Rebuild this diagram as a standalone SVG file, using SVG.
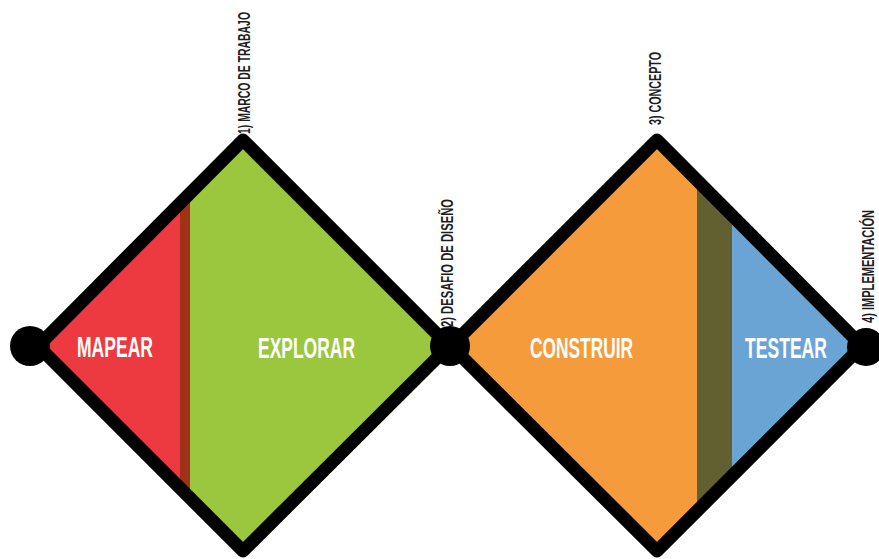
<svg xmlns="http://www.w3.org/2000/svg" width="879" height="559" viewBox="0 0 879 559">
<style>
.lbl{font-family:"Liberation Sans",Arial,sans-serif;font-weight:bold;font-size:29px;fill:#ffffff}
.vl{font-family:"Liberation Sans",Arial,sans-serif;font-weight:bold;font-size:11px;fill:#1e1e1e}
.edge{fill:none;stroke:#000;stroke-width:13;stroke-linejoin:round}
.dot{fill:#000}
</style>
<defs>
<clipPath id="cl"><polygon points="243,140 449,346 243,551 38,346"/></clipPath>
<clipPath id="cr"><polygon points="657,140 862,346 657,551 451,346"/></clipPath>
</defs>
<rect width="879" height="559" fill="#ffffff"/>
<g id="diamond-left">
<g clip-path="url(#cl)">
<rect x="30" y="130" width="150" height="430" fill="#EC3A40"/>
<rect x="180" y="130" width="10" height="430" fill="#9E3118"/>
<rect x="190" y="130" width="270" height="430" fill="#9AC73E"/>
</g>
<polygon class="edge" points="243,140 449,346 243,551 38,346"/>
</g>
<g id="diamond-right">
<g clip-path="url(#cr)">
<rect x="440" y="130" width="257" height="430" fill="#F69B3B"/>
<rect x="697" y="130" width="35" height="430" fill="#625F30"/>
<rect x="732" y="130" width="140" height="430" fill="#6AA4D5"/>
</g>
<polygon class="edge" points="657,140 862,346 657,551 451,346"/>
</g>
<g id="connectors">
<circle id="dot-start" class="dot" cx="30" cy="346" r="20"/>
<circle id="dot-mid" class="dot" cx="450" cy="346" r="20"/>
<circle id="dot-end" class="dot" cx="866" cy="347" r="19"/>
</g>
<g id="labels">
<text class="lbl" x="77" y="357" textLength="76" lengthAdjust="spacingAndGlyphs">MAPEAR</text>
<text class="lbl" x="258" y="358" textLength="97" lengthAdjust="spacingAndGlyphs">EXPLORAR</text>
<text class="lbl" x="530" y="358" textLength="103" lengthAdjust="spacingAndGlyphs">CONSTRUIR</text>
<text class="lbl" x="745" y="358" textLength="82" lengthAdjust="spacingAndGlyphs">TESTEAR</text>
</g>
<g id="stage-labels">
<text class="vl" transform="translate(250,134) rotate(-90) scale(1,1.55)" textLength="122" lengthAdjust="spacingAndGlyphs">1) MARCO DE TRABAJO</text>
<text class="vl" transform="translate(453,327) rotate(-90) scale(1,1.55)" textLength="128" lengthAdjust="spacingAndGlyphs">2) DESAFIO DE DISEÑO</text>
<text class="vl" transform="translate(661,125) rotate(-90) scale(1,1.55)" textLength="73" lengthAdjust="spacingAndGlyphs">3) CONCEPTO</text>
<text class="vl" transform="translate(874,323) rotate(-90) scale(1,1.55)" textLength="113" lengthAdjust="spacingAndGlyphs">4) IMPLEMENTACIÓN</text>
</g>
</svg>
